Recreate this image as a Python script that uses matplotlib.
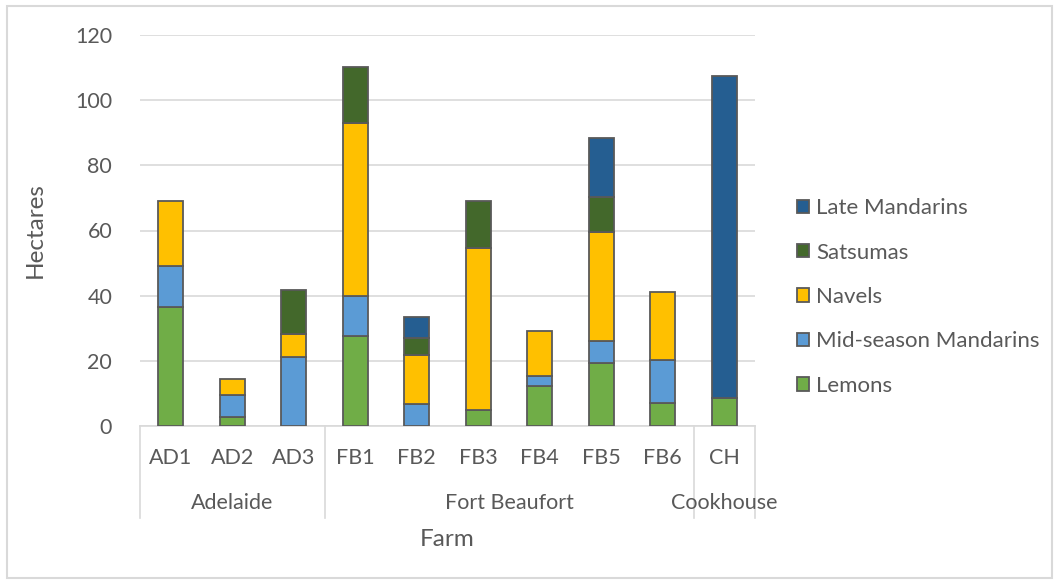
import matplotlib
matplotlib.use("Agg")
import matplotlib.pyplot as plt
from matplotlib.patches import Rectangle, Patch
from matplotlib.transforms import blended_transform_factory
import numpy as np

plt.rcParams['font.family'] = ['Lato', 'DejaVu Sans']

farms = ["AD1", "AD2", "AD3", "FB1", "FB2", "FB3", "FB4", "FB5", "FB6", "CH"]
regions = ["Adelaide", "Fort Beaufort", "Cookhouse"]
region_sizes = [3, 6, 1]

lemons = [36.4, 2.7, 0.0, 27.5, 0.0, 5.0, 12.3, 19.4, 7.1, 8.6]
mid_season = [12.8, 6.8, 21.2, 12.5, 6.7, 0.0, 3.0, 6.8, 13.2, 0.0]
navels = [20.0, 4.9, 6.9, 53.1, 15.1, 49.5, 14.0, 33.3, 20.7, 0.0]
satsumas = [0.0, 0.0, 13.5, 17.2, 5.1, 14.7, 0.0, 10.7, 0.0, 0.0]
late_mandarins = [0.0, 0.0, 0.0, 0.0, 6.7, 0.0, 0.0, 18.1, 0.0, 98.8]

series = [
    ("Lemons", lemons, "#70AD47"),
    ("Mid-season Mandarins", mid_season, "#5B9BD5"),
    ("Navels", navels, "#FFC000"),
    ("Satsumas", satsumas, "#43682B"),
    ("Late Mandarins", late_mandarins, "#255E91"),
]

W, H = 1059, 584
fig = plt.figure(figsize=(W / 100, H / 100), dpi=100)
ax = fig.add_axes([140 / W, 1 - 426 / H, 615 / W, 391 / H])

text_color = "#595959"
edge_color = "#595959"
grid_color = "#D9D9D9"
tick_fs = 15.5
title_fs = 17.5

x = np.arange(len(farms))
bottom = np.zeros(len(farms))
for name, vals, color in series:
    vals = np.array(vals)
    mask = vals > 0
    ax.bar(x[mask], vals[mask], bottom=bottom[mask], width=0.41, color=color,
           edgecolor=edge_color, linewidth=1.3, zorder=3)
    bottom += vals

ax.set_xlim(-0.5, len(farms) - 0.5)
ax.set_ylim(0, 120)
ax.set_yticks(np.arange(0, 121, 20))
ax.tick_params(axis='y', length=0, pad=20, labelsize=tick_fs, labelcolor=text_color)
ax.yaxis.grid(True, color=grid_color, linewidth=1.2, zorder=0)
ax.set_xticks([])
for side in ["left", "right", "top"]:
    ax.spines[side].set_visible(False)
ax.spines["bottom"].set_color(grid_color)
ax.spines["bottom"].set_linewidth(1.2)

trans = blended_transform_factory(ax.transData, ax.transAxes)
px = 1 / 391.0

# farm labels
for i, f in enumerate(farms):
    ax.text(i, -32 * px, f, transform=trans, ha="center", va="center",
            fontsize=tick_fs, color=text_color)

# region labels and separators
start = 0
bounds = [-0.5]
for reg, n in zip(regions, region_sizes):
    centre = start + (n - 1) / 2
    ax.text(centre, -77 * px, reg, transform=trans, ha="center", va="center",
            fontsize=tick_fs, color=text_color)
    start += n
    bounds.append(start - 0.5)
for b in bounds:
    ax.plot([b, b], [0, -92 * px], transform=trans, color=grid_color,
            linewidth=1.2, clip_on=False)

ax.text(0.5, -114 * px, "Farm", transform=ax.transAxes, ha="center",
        va="center", fontsize=title_fs, color=text_color)
ax.text(-105 / 615, 0.5, "Hectares", transform=ax.transAxes, ha="center",
        va="center", rotation=90, fontsize=title_fs, color=text_color)

handles = [Patch(facecolor=c, edgecolor=edge_color, linewidth=1.3, label=n)
           for n, _, c in series][::-1]
leg = fig.legend(handles=handles, loc="center left",
                 bbox_to_anchor=(797 / W, 1 - 297 / H), frameon=False,
                 fontsize=16, labelcolor=text_color, handlelength=0.55,
                 handleheight=0.55, handletextpad=0.3, labelspacing=1.1,
                 borderaxespad=0, borderpad=0)

fig.patches.append(Rectangle((7 / W, 6 / H), (1052 - 7) / W, (578 - 6) / H,
                             transform=fig.transFigure, fill=False,
                             edgecolor=grid_color, linewidth=1.5))

fig.savefig("out.png", dpi=100, facecolor="white")
